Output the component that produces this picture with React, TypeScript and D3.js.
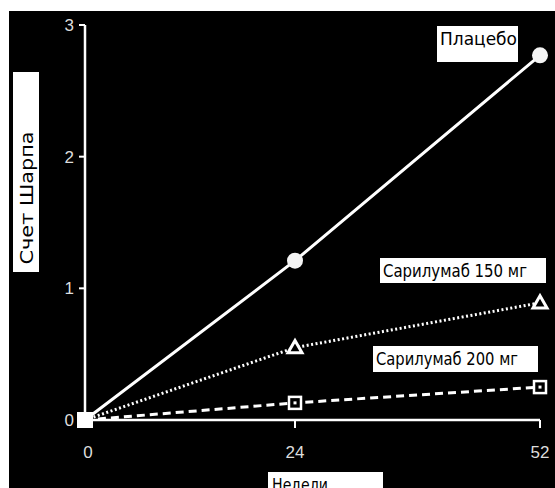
import React from "react";
import * as d3 from "d3";

const weeks = [0, 24, 52];
const placebo = [0, 1.21, 2.77];
const sari150 = [0, 0.55, 0.89];
const sari200 = [0, 0.13, 0.25];
const yTicks = [0, 1, 2, 3];
const xTicks = [0, 24, 52];
const seriesNames = ["Плацебо", "Сарилумаб 150 мг", "Сарилумаб 200 мг"];
const yTitle = "Счет Шарпа";
const xTitle = "Недели";

export default function App() {
  const W = 555, H = 488;
  const x = d3.scaleLinear().domain([0, 52]).range([85, 540]);
  const y = d3.scaleLinear().domain([0, 3]).range([420, 25]);
  const line = d3.line<number>().x((_, i) => x(weeks[i])).y((v) => y(v));
  const font = "Liberation Sans, Arial, sans-serif";
  const condensed = "'DejaVu Sans Condensed', 'Liberation Sans Narrow', sans-serif";

  const tri = (cx: number, cy: number) => {
    const s = 7;
    return `M${cx},${cy - s} L${cx + s},${cy + s * 0.75} L${cx - s},${cy + s * 0.75} Z`;
  };

  return (
    <svg width={W} height={H} style={{ position: "absolute", left: 0, top: 0 }}>
      <rect x={0} y={0} width={W} height={H} fill="#fff" />
      <rect x={9} y={11} width={W - 9} height={H - 11} fill="#000" />

      {/* axes */}
      <line x1={x(0)} x2={x(0)} y1={y(3)} y2={y(0)} stroke="#fff" strokeWidth={2.5} />
      <line x1={x(0)} x2={x(52)} y1={y(0)} y2={y(0)} stroke="#fff" strokeWidth={2.5} />
      {yTicks.map((t) => (
        <g key={"y" + t}>
          <line x1={x(0) - 6} x2={x(0)} y1={y(t)} y2={y(t)} stroke="#fff" strokeWidth={2} />
          <text x={74} y={y(t)} dy="0.35em" textAnchor="end" fill="#ddd" fontFamily={font} fontSize={17}>
            {t}
          </text>
        </g>
      ))}
      {xTicks.map((t) => (
        <g key={"x" + t}>
          {t > 0 && (
            <line x1={x(t)} x2={x(t)} y1={y(0)} y2={y(0) + 8} stroke="#fff" strokeWidth={2} />
          )}
          <text x={x(t) + (t === 0 ? 3 : 0)} y={458} textAnchor="middle" fill="#ddd" fontFamily={font} fontSize={17}>
            {t}
          </text>
        </g>
      ))}

      {/* lines */}
      <path d={line(placebo) || ""} fill="none" stroke="#fff" strokeWidth={3} />
      <path d={line(sari150) || ""} fill="none" stroke="#fff" strokeWidth={3} strokeDasharray="2 2.5" />
      <path d={line(sari200) || ""} fill="none" stroke="#fff" strokeWidth={3} strokeDasharray="8 5" />

      {/* markers */}
      {placebo.map((v, i) =>
        i > 0 ? <circle key={"p" + i} cx={x(weeks[i])} cy={y(v)} r={8} fill="#f4f4f4" /> : null
      )}
      {sari150.map((v, i) =>
        i > 0 ? (
          <path key={"t" + i} d={tri(x(weeks[i]), y(v))} fill="#000" stroke="#fff" strokeWidth={3} strokeLinejoin="miter" />
        ) : null
      )}
      {sari200.map((v, i) =>
        i > 0 ? (
          <g key={"s" + i}>
            <rect x={x(weeks[i]) - 6} y={y(v) - 6} width={12} height={12} fill="#000" stroke="#fff" strokeWidth={2.5} />
            <rect x={x(weeks[i]) - 1.5} y={y(v) - 1.5} width={3} height={3} fill="#fff" />
          </g>
        ) : null
      )}
      {/* origin cluster */}
      <rect x={x(0) - 8} y={y(0) - 8} width={16} height={16} fill="#fff" />

      {/* series labels */}
      <rect x={437} y={26} width={81} height={36} fill="#fff" />
      <text x={440} y={45} fill="#000" fontFamily={condensed} fontSize={17} textLength={77} lengthAdjust="spacingAndGlyphs">{seriesNames[0]}</text>
      <rect x={380} y={258} width={166} height={25} fill="#fff" />
      <text x={383} y={277} fill="#000" fontFamily={condensed} fontSize={17} textLength={144} lengthAdjust="spacingAndGlyphs">{seriesNames[1]}</text>
      <rect x={373} y={346} width={165} height={26} fill="#fff" />
      <text x={376} y={365} fill="#000" fontFamily={condensed} fontSize={17} textLength={142} lengthAdjust="spacingAndGlyphs">{seriesNames[2]}</text>

      {/* axis titles */}
      <rect x={13} y={72} width={26} height={200} fill="#fff" />
      <text
        transform={`translate(33, 198) rotate(-90)`}
        textAnchor="middle"
        fill="#000"
        fontFamily={condensed}
        fontSize={18}
        textLength={133}
        lengthAdjust="spacingAndGlyphs"
      >
        {yTitle}
      </text>
      <rect x={268} y={472} width={115} height={16} fill="#fff" />
      <text x={272} y={491} fill="#000" fontFamily={condensed} fontSize={18} textLength={56} lengthAdjust="spacingAndGlyphs">{xTitle}</text>
    </svg>
  );
}
